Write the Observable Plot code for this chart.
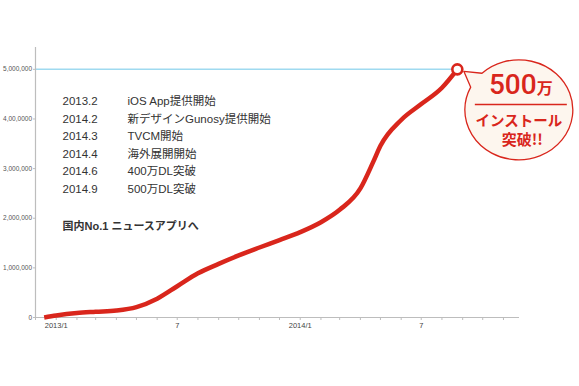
<!DOCTYPE html>
<html>
<head>
<meta charset="utf-8">
<script src="https://cdn.jsdelivr.net/npm/d3@7"></script>
<script src="https://cdn.jsdelivr.net/npm/@observablehq/plot@0.6"></script>
<style>
  html, body { margin: 0; padding: 0; background: #fff; }
  svg { display: block; }
</style>
</head>
<body>
<div id="chart"></div>
<script>
// ---- data ----
const dates = ["2012-12-14","2013-01-01","2013-02-01","2013-03-01","2013-04-01","2013-05-01","2013-06-01","2013-07-01","2013-08-01","2013-09-01","2013-10-01","2013-11-01","2013-12-01","2014-01-01","2014-02-01","2014-03-01","2014-04-01","2014-04-20","2014-05-01","2014-06-01","2014-07-01","2014-08-01","2014-08-24"];
const installs = [0, 40000, 90000, 115000, 140000, 210000, 380000, 630000, 890000, 1080000, 1250000, 1410000, 1560000, 1720000, 1920000, 2170000, 2600000, 3130000, 3460000, 3980000, 4300000, 4630000, 5000000];

const yTicks = [0, 1000000, 2000000, 3000000, 4000000, 5000000];
const yTickLabels = ["0", "1,000,000", "2,000,000", "3,000,000", "4,00,0000", "5,000,000"];
const xLabelDates = ["2013-01-01", "2013-07-01", "2014-01-01", "2014-07-01"];
const xLabels = ["2013/1", "7", "2014/1", "7"];
const xDomain = ["2012-12-01", "2014-11-25"];
const yMax = 5440000;
const milestone = 5000000;

const eventDates = ["2013.2", "2014.2", "2014.3", "2014.4", "2014.6", "2014.9"];
const eventTexts = ["iOS App提供開始", "新デザインGunosy提供開始", "TVCM開始", "海外展開開始", "400万DL突破", "500万DL突破"];
const tagline = "国内No.1 ニュースアプリへ";
const bubbleBig = "500";
const bubbleUnit = "万";
const bubbleLine1 = "インストール";
const bubbleLine2 = "突破!!";

// ---- build ----
const parse = d3.utcParse("%Y-%m-%d");
const data = dates.map((d, i) => ({date: parse(d), value: installs[i]}));
const last = data[data.length - 1];
const x0 = parse(xDomain[0]);
const x1 = parse(xDomain[1]);
const monthTicks = d3.utcMonths(x0, x1);
const labelMap = new Map(xLabelDates.map((d, i) => [+parse(d), xLabels[i]]));
const yLabelMap = new Map(yTicks.map((t, i) => [t, yTickLabels[i]]));

const RED = "#d9261c";
const AXIS = "#bdbdbd";

function bubble(index, scales, values, dimensions, context) {
  const px = scales.x(last.date), py = scales.y(last.value);
  const cx = px + 62, cy = py + 41, rx = 54, ry = 50;
  const rad = a => a * Math.PI / 180;
  const t1 = rad(-133), t2 = rad(207);
  const p1 = [cx + rx * Math.cos(t1), cy + ry * Math.sin(t1)];
  const p2 = [cx + rx * Math.cos(t2), cy + ry * Math.sin(t2)];
  const tip = [px + 7, py + 2.5];
  const g = d3.create("svg:g");
  g.append("path")
    .attr("d", `M${tip}L${p1}A${rx},${ry} 0 1 1 ${p2}Z`)
    .attr("fill", "#fdf6ee").attr("stroke", RED).attr("stroke-width", 1.3).attr("stroke-linejoin", "round");
  const t = g.append("text").attr("x", cx + 2).attr("y", cy - 15.5)
    .attr("text-anchor", "middle").attr("fill", RED);
  t.append("tspan").attr("font-size", 28).attr("font-family", "Roboto, 'Liberation Sans', sans-serif").attr("font-weight", 500).text(bubbleBig);
  t.append("tspan").attr("font-size", 16).attr("font-weight", "bold").attr("font-family", "'Noto Sans CJK JP', sans-serif").text(bubbleUnit);
  g.append("line").attr("x1", cx - 44).attr("x2", cx + 48).attr("y1", cy - 5.3).attr("y2", cy - 5.3)
    .attr("stroke", RED).attr("stroke-width", 1.4);
  g.append("text").attr("x", cx).attr("y", cy + 16.5).attr("text-anchor", "middle")
    .attr("fill", RED).attr("font-size", 14.5).attr("font-weight", "bold")
    .attr("font-family", "'Noto Sans CJK JP', sans-serif").text(bubbleLine1);
  g.append("text").attr("x", cx + 3.5).attr("y", cy + 35.5).attr("text-anchor", "middle")
    .attr("fill", RED).attr("font-size", 15).attr("font-weight", "bold")
    .attr("font-family", "'Noto Sans CJK JP', sans-serif").text(bubbleLine2);
  return g.node();
}

const chart = Plot.plot({
  width: 579,
  height: 386,
  marginLeft: 35,
  marginRight: 60,
  marginTop: 47,
  marginBottom: 69,
  style: {fontFamily: "'Liberation Sans', 'Noto Sans CJK JP', sans-serif", background: "#fff", overflow: "visible"},
  x: {type: "utc", domain: [x0, x1], label: null},
  y: {domain: [0, yMax], label: null},
  marks: [
    Plot.ruleY([milestone], {x1: x0, x2: last.date, stroke: "#9fdaf0", strokeWidth: 1.5}),
    Plot.ruleX([x0], {stroke: AXIS, strokeWidth: 1.2}),
    Plot.ruleY([0], {stroke: AXIS, strokeWidth: 1.2}),
    Plot.axisY({ticks: yTicks, tickFormat: d => yLabelMap.get(d), tickSize: 2, tickPadding: 1.5, fontSize: 6.5, fill: "#555", stroke: AXIS, label: null}),
    Plot.axisX({ticks: monthTicks, tickFormat: () => "", tickSize: 3, stroke: AXIS, label: null}),
    Plot.axisX({ticks: xLabelDates.map(parse), tickFormat: d => labelMap.get(+d), tickSize: 0, tickPadding: 5.5, fontSize: 7.5, fill: "#444", label: null}),
    Plot.line(data, {x: "date", y: "value", stroke: RED, strokeWidth: 4.5, curve: "monotone-x", strokeLinecap: "butt"}),
    Plot.dot([last], {x: "date", y: "value", r: 5, fill: "white", stroke: RED, strokeWidth: 2.6}),
    Plot.text([eventDates.join("\n")], {frameAnchor: "top-left", dx: 27, dy: 45, lineAnchor: "top", lineHeight: 1.53, fontSize: 11.5, fill: "#333"}),
    Plot.text([eventTexts.join("\n")], {frameAnchor: "top-left", dx: 92, dy: 45, lineAnchor: "top", lineHeight: 1.53, fontSize: 11.5, fill: "#333"}),
    Plot.text([tagline], {frameAnchor: "top-left", dx: 27, dy: 175, lineAnchor: "top", fontSize: 11, fontWeight: "bold", fill: "#333"}),
    bubble
  ]
});
document.getElementById("chart").append(chart);
</script>
</body>
</html>
